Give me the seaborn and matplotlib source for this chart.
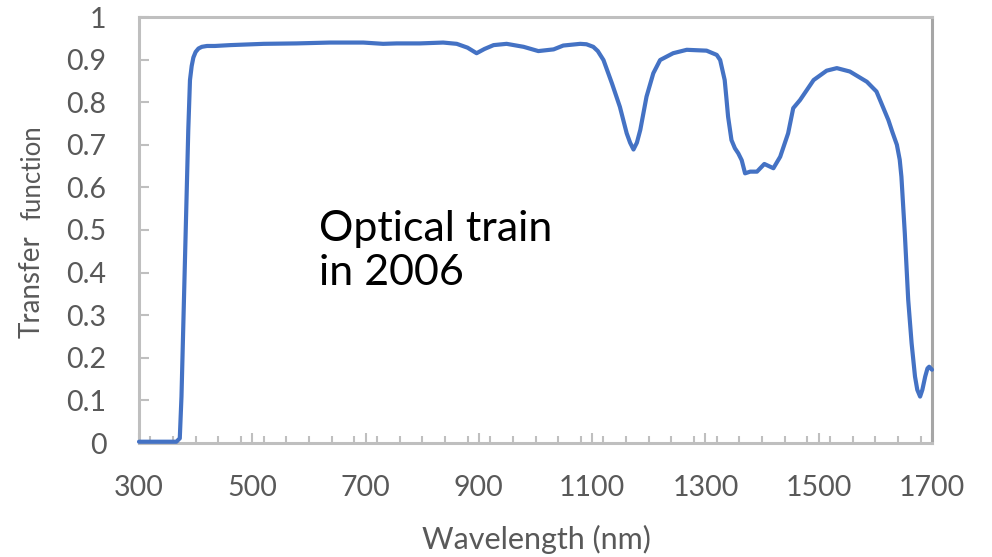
import matplotlib
matplotlib.use("Agg")
import matplotlib.pyplot as plt
from matplotlib.ticker import MultipleLocator, FuncFormatter
import seaborn as sns
import pandas as pd

# Measured transmission of the optical train (2006)
wavelength_nm = [300, 340, 366, 372, 375, 378, 381, 384, 387, 390, 393, 396, 400, 405,
                 411, 420, 434, 461, 520, 578, 637, 696, 731, 755, 796, 837, 861, 880,
                 896, 910, 926, 949, 979, 1005, 1032, 1049, 1079, 1090, 1102, 1110, 1120,
                 1135, 1149, 1161, 1167, 1173, 1179, 1185, 1196, 1208, 1220, 1243, 1267,
                 1302, 1320, 1326, 1334, 1337, 1340, 1346, 1352, 1358, 1364, 1370, 1379,
                 1391, 1404, 1420, 1432, 1446, 1455, 1467, 1491, 1514, 1532, 1555, 1585,
                 1602, 1623, 1630, 1638, 1643, 1646, 1652, 1658, 1664, 1670, 1674, 1679,
                 1683, 1688, 1692, 1695, 1700]
transfer = [0.003, 0.003, 0.003, 0.011, 0.109, 0.265, 0.422, 0.578, 0.735, 0.852, 0.885,
            0.905, 0.918, 0.926, 0.930, 0.932, 0.932, 0.934, 0.937, 0.938, 0.940, 0.940,
            0.937, 0.938, 0.938, 0.940, 0.937, 0.928, 0.915, 0.925, 0.934, 0.937, 0.930,
            0.920, 0.924, 0.933, 0.937, 0.936, 0.930, 0.920, 0.899, 0.844, 0.789, 0.727,
            0.705, 0.689, 0.705, 0.735, 0.813, 0.868, 0.899, 0.915, 0.923, 0.921, 0.911,
            0.899, 0.852, 0.810, 0.766, 0.711, 0.692, 0.680, 0.664, 0.633, 0.637, 0.637,
            0.655, 0.645, 0.672, 0.727, 0.786, 0.805, 0.852, 0.874, 0.880, 0.872, 0.848,
            0.825, 0.758, 0.730, 0.700, 0.665, 0.625, 0.492, 0.336, 0.234, 0.156, 0.125,
            0.109, 0.125, 0.156, 0.175, 0.179, 0.172]

x_major_ticks = [300, 500, 700, 900, 1100, 1300, 1500, 1700]
x_label = "Wavelength (nm)"
y_label_words = ["Transfer", "function"]
annotation = "Optical train\nin 2006"

sns.set_theme(style="white")
plt.rcParams["font.family"] = ["Lato", "DejaVu Sans"]

W, H = 992, 557
fig = plt.figure(figsize=(W / 100, H / 100), dpi=100)
fig.patch.set_facecolor("white")

left, right, top, bottom = 139, 932, 17, 443
ax = fig.add_axes([left / W, 1 - bottom / H, (right - left) / W, (bottom - top) / H])

df = pd.DataFrame({"wavelength": wavelength_nm, "transfer": transfer})
sns.lineplot(data=df, x="wavelength", y="transfer", ax=ax, color="#4472C4",
             linewidth=3.0, sort=False, zorder=3, clip_on=False)
for ln in ax.lines:
    ln.set_solid_joinstyle("round")
    ln.set_solid_capstyle("round")

ax.set_xlim(300, 1700)
ax.set_ylim(0, 1)

grey = "#BFBFBF"
for side in ["left", "bottom", "top"]:
    ax.spines[side].set_color(grey)
    ax.spines[side].set_linewidth(2.2)
ax.spines["right"].set_color("#A6A6A6")
ax.spines["right"].set_linewidth(2.2)

ax.set_xticks(x_major_ticks)
ax.xaxis.set_minor_locator(MultipleLocator(40))
ax.yaxis.set_major_locator(MultipleLocator(0.1))
ax.yaxis.set_major_formatter(FuncFormatter(lambda v, p: f"{v:g}"))

tick_font = 20.5
ax.tick_params(axis="x", which="major", direction="in", length=7.2, width=1.5,
               color=grey, labelsize=tick_font, labelcolor="#595959", pad=23,
               bottom=True, top=False)
ax.tick_params(axis="x", which="minor", direction="in", length=4.7, width=1.5,
               color=grey, bottom=True, top=False)
ax.tick_params(axis="y", which="major", direction="in", length=7.2, width=1.5,
               color=grey, labelsize=tick_font, labelcolor="#595959", pad=23.5,
               left=True, right=False)

ax.set_xlabel(x_label, fontsize=22, color="#595959", va="baseline")
ax.set_ylabel("")
ax.xaxis.set_label_coords((536 - left) / (right - left), -(549 - bottom) / (bottom - top))

# Axis title on the left, two words at different sizes on a shared baseline
fig.text(40 / W, 1 - 338 / H, y_label_words[0], rotation=90, rotation_mode="anchor",
         ha="left", va="baseline", fontsize=20, color="#595959")
fig.text(40 / W, 1 - 125 / H, y_label_words[1], rotation=90, rotation_mode="anchor",
         ha="right", va="baseline", fontsize=18.5, color="#595959")

fig.text(319 / W, 1 - 210 / H, annotation, ha="left", va="top", fontsize=31,
         color="black", linespacing=1.2)

fig.savefig("out.png", dpi=100, facecolor="white")
